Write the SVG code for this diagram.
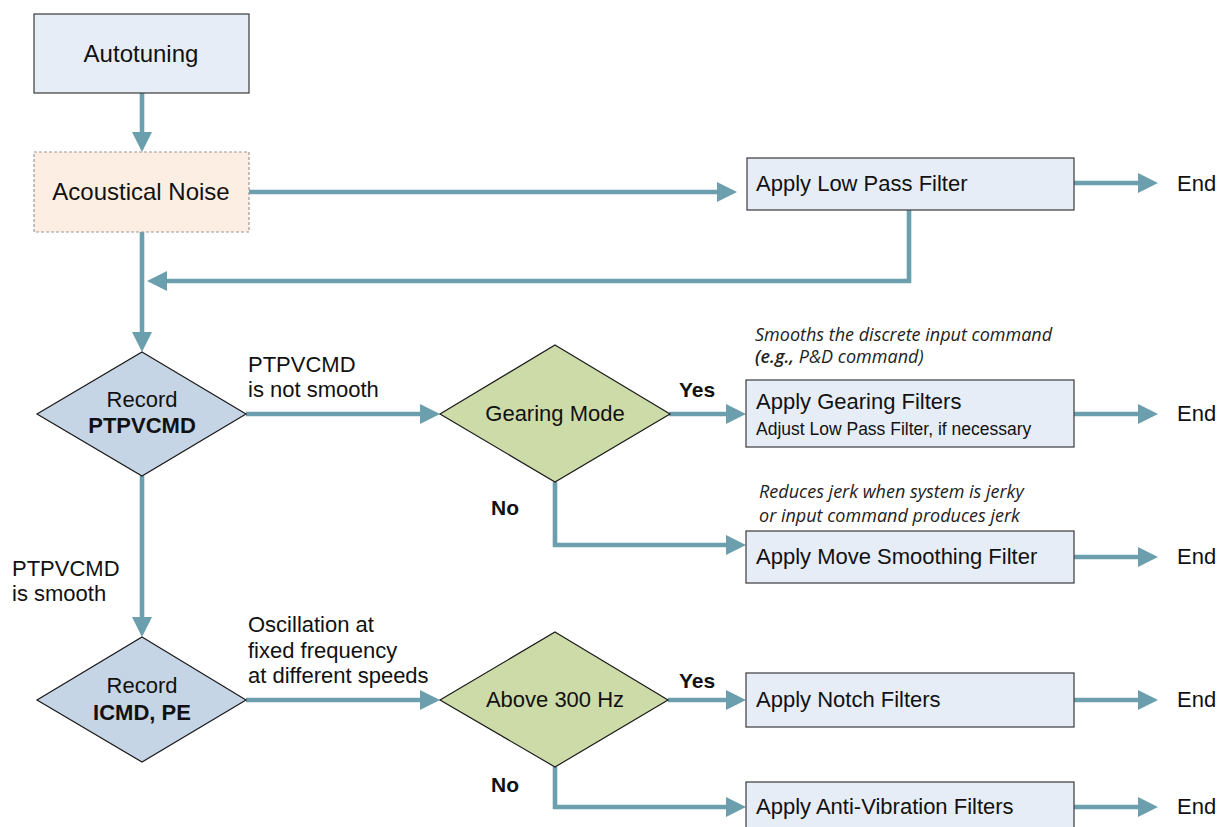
<svg xmlns="http://www.w3.org/2000/svg" width="1219" height="827" viewBox="0 0 1219 827">
<style>
.box{fill:#e6edf7;stroke:#3a3a3a;stroke-width:1.2}
.noise{fill:#fdeee3;stroke:#9a9a9a;stroke-width:1.2;stroke-dasharray:3 2}
.dblue{fill:#c6d5e5;stroke:#1a1a1a;stroke-width:1.2}
.dgreen{fill:#cddba9;stroke:#1a1a1a;stroke-width:1.2}
.t{font-family:"Liberation Sans",Arial,sans-serif;font-size:22px;fill:#111}
.c{text-anchor:middle}
.b{font-weight:bold}
.yn{font-family:"Liberation Sans",Arial,sans-serif;font-size:21px;font-weight:bold;fill:#111}
.sub{font-family:"Liberation Sans",Arial,sans-serif;font-size:17.5px;fill:#111}
.note{font-family:"Open Sans","Liberation Sans",sans-serif;font-size:18px;font-style:italic;fill:#222}
.conn path{fill:none;stroke:#6b9fae;stroke-width:4.6}
</style>
<defs>
<marker id="ah" markerUnits="userSpaceOnUse" markerWidth="20" markerHeight="20" refX="10" refY="10" orient="auto" viewBox="0 0 20 20">
<path d="M0,0 L20,10 L0,20 z" fill="#6b9fae"/>
</marker>
</defs>
<g class="conn">
<path d="M142,93 V142" marker-end="url(#ah)"/>
<path d="M249,192 H727" marker-end="url(#ah)"/>
<path d="M1074,183 H1148" marker-end="url(#ah)"/>
<path d="M909,210 V281 H157" marker-end="url(#ah)"/>
<path d="M142,232 V342" marker-end="url(#ah)"/>
<path d="M246,414 H430" marker-end="url(#ah)"/>
<path d="M669,414 H736" marker-end="url(#ah)"/>
<path d="M1074,414 H1148" marker-end="url(#ah)"/>
<path d="M555,482 V545 H736" marker-end="url(#ah)"/>
<path d="M1074,557 H1148" marker-end="url(#ah)"/>
<path d="M142,476 V627" marker-end="url(#ah)"/>
<path d="M246,700 H430" marker-end="url(#ah)"/>
<path d="M668,700 H736" marker-end="url(#ah)"/>
<path d="M1074,700 H1148" marker-end="url(#ah)"/>
<path d="M555,767 V807 H736" marker-end="url(#ah)"/>
<path d="M1074,807 H1148" marker-end="url(#ah)"/>
</g>
<g id="autotuning">
<rect class="box" x="34" y="14" width="215" height="79"/>
<text class="t c" x="141" y="62" style="font-size:24px">Autotuning</text>
</g>
<g id="noise">
<rect class="noise" x="34" y="152" width="215" height="80"/>
<text class="t c" x="141" y="200" style="font-size:24px">Acoustical Noise</text>
</g>
<g id="lowpass">
<rect class="box" x="747" y="158" width="327" height="52"/>
<text class="t" x="756" y="191">Apply Low Pass Filter</text>
</g>
<g id="record1">
<polygon class="dblue" points="142,352 246,414 142,476 37,414"/>
<text class="t c" x="142" y="407">Record</text>
<text class="t c b" x="142" y="433">PTPVCMD</text>
</g>
<g id="gearing">
<polygon class="dgreen" points="555,345 670,414 555,482 440,414"/>
<text class="t c" x="555" y="421">Gearing Mode</text>
</g>
<g id="gearfilter">
<rect class="box" x="746" y="380" width="328" height="67"/>
<text class="t" x="756" y="409">Apply Gearing Filters</text>
<text class="sub" x="756" y="435">Adjust Low Pass Filter, if necessary</text>
</g>
<g id="movesmooth">
<rect class="box" x="746" y="531" width="328" height="52"/>
<text class="t" x="756" y="564">Apply Move Smoothing Filter</text>
</g>
<g id="record2">
<polygon class="dblue" points="142,637 246,700 142,762 37,700"/>
<text class="t c" x="142" y="693">Record</text>
<text class="t c b" x="142" y="720">ICMD, PE</text>
</g>
<g id="above300">
<polygon class="dgreen" points="555,632 668,700 555,767 440,700"/>
<text class="t c" x="555" y="707">Above 300 Hz</text>
</g>
<g id="notch">
<rect class="box" x="746" y="673" width="328" height="54"/>
<text class="t" x="756" y="707">Apply Notch Filters</text>
</g>
<g id="antivib">
<rect class="box" x="746" y="782" width="328" height="60"/>
<text class="t" x="756" y="814">Apply Anti-Vibration Filters</text>
</g>
<g id="labels">
<text class="t" x="1177" y="191">End</text>
<text class="t" x="1177" y="421">End</text>
<text class="t" x="1177" y="564">End</text>
<text class="t" x="1177" y="707">End</text>
<text class="t" x="1177" y="814">End</text>
<text class="t" x="248" y="372">PTPVCMD</text>
<text class="t" x="248" y="397">is not smooth</text>
<text class="t" x="12" y="576">PTPVCMD</text>
<text class="t" x="12" y="601">is smooth</text>
<text class="t" x="248" y="632">Oscillation at</text>
<text class="t" x="248" y="658">fixed frequency</text>
<text class="t" x="248" y="683">at different speeds</text>
<text class="yn" x="679" y="397">Yes</text>
<text class="yn" x="679" y="688">Yes</text>
<text class="yn" x="491" y="515">No</text>
<text class="yn" x="491" y="792">No</text>
<text class="note" x="755" y="341">Smooths the discrete input command</text>
<text class="note" x="755" y="363"><tspan font-weight="600">(e.g.,</tspan> P&amp;D command)</text>
<text class="note" x="759" y="498">Reduces jerk when system is jerky</text>
<text class="note" x="759" y="522">or input command produces jerk</text>
</g>
</svg>
